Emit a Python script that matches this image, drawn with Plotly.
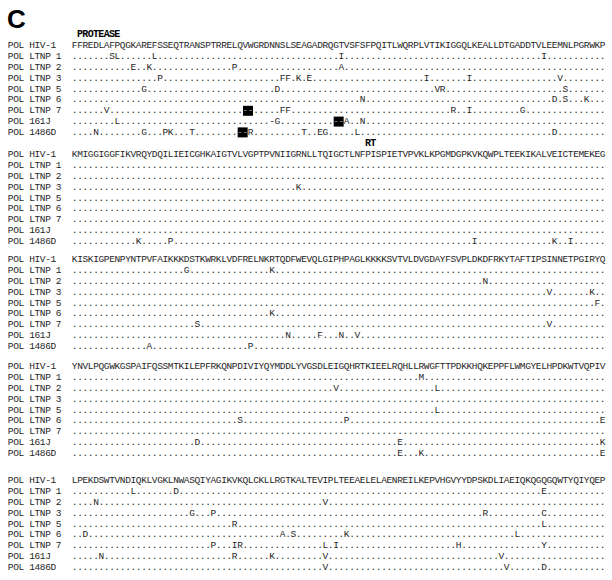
import plotly.graph_objects as go

# row labels, same for every block
labels = ["POL HIV-1", "POL LTNP 1", "POL LTNP 2", "POL LTNP 3", "POL LTNP 5",
          "POL LTNP 6", "POL LTNP 7", "POL 161J", "POL 1486D"]

# HIV-1 reference, 100 residues per block
ref_seqs = [
    "FFREDLAFPQGKAREFSSEQTRANSPTRRELQVWGRDNNSLSEAGADRQGTVSFSFPQITLWQRPLVTIKIGGQLKEALLDTGADDTVLEEMNLPGRWKP",
    "KMIGGIGGFIKVRQYDQILIEICGHKAIGTVLVGPTPVNIIGRNLLTQIGCTLNFPISPIETVPVKLKPGMDGPKVKQWPLTEEKIKALVEICTEMEKEG",
    "KISKIGPENPYNTPVFAIKKKDSTKWRKLVDFRELNKRTQDFWEVQLGIPHPAGLKKKKSVTVLDVGDAYFSVPLDKDFRKYTAFTIPSINNETPGIRYQ",
    "YNVLPQGWKGSPAIFQSSMTKILEPFRKQNPDIVIYQYMDDLYVGSDLEIGQHRTKIEELRQHLLRWGFTTPDKKHQKEPPFLWMGYELHPDKWTVQPIV",
    "LPEKDSWTVNDIQKLVGKLNWASQIYAGIKVKQLCKLLRGTKALTEVIPLTEEAELELAENREILKEPVHGVYYDPSKDLIAEIQKQGQGQWTYQIYQEP",
]

# differences from HIV-1 (column, residue); everything else is shown as '.'
block1_changes = {
    "POL LTNP 1": [(8, "S"), (9, "L"), (16, "L"), (51, "I"), (89, "I")],
    "POL LTNP 2": [(12, "E"), (15, "K"), (31, "P"), (51, "A")],
    "POL LTNP 3": [(17, "P"), (40, "F"), (41, "F"), (43, "K"), (45, "E"), (67, "I"), (75, "I"), (92, "V")],
    "POL LTNP 5": [(14, "G"), (39, "D"), (69, "V"), (70, "R"), (93, "S")],
    "POL LTNP 6": [(55, "N"), (91, "D"), (93, "S"), (97, "K")],
    "POL LTNP 7": [(7, "V"), (33, "-"), (34, "-"), (40, "F"), (41, "F"), (72, "R"), (75, "I"), (85, "G")],
    "POL 161J": [(9, "L"), (38, "-"), (39, "G"), (50, "-"), (51, "-"), (52, "A"), (55, "N")],
    "POL 1486D": [(5, "N"), (14, "G"), (18, "P"), (19, "K"), (23, "T"), (32, "-"), (33, "-"), (34, "R"),
                  (44, "T"), (47, "E"), (48, "G"), (54, "L"), (91, "D")],
}
block2_changes = {
    "POL LTNP 3": [(43, "K")],
    "POL 1486D": [(13, "K"), (19, "P"), (76, "I"), (91, "K"), (94, "I")],
}
block3_changes = {
    "POL LTNP 1": [(22, "G"), (38, "K")],
    "POL LTNP 2": [(78, "N")],
    "POL LTNP 3": [(90, "V"), (98, "K")],
    "POL LTNP 5": [(99, "F")],
    "POL LTNP 6": [(38, "K")],
    "POL LTNP 7": [(24, "S"), (90, "V")],
    "POL 161J": [(41, "N"), (47, "F"), (51, "N"), (54, "V")],
    "POL 1486D": [(15, "A"), (34, "P")],
}
block4_changes = {
    "POL LTNP 1": [(66, "M")],
    "POL LTNP 2": [(50, "V"), (69, "L")],
    "POL LTNP 5": [(69, "L")],
    "POL LTNP 6": [(32, "S"), (52, "P"), (100, "E")],
    "POL 161J": [(24, "D"), (62, "E"), (100, "K")],
    "POL 1486D": [(62, "E"), (66, "K"), (100, "E")],
}
block5_changes = {
    "POL LTNP 1": [(12, "L"), (20, "D"), (89, "E")],
    "POL LTNP 2": [(5, "N"), (48, "V")],
    "POL LTNP 3": [(23, "G"), (27, "P"), (78, "R"), (89, "C")],
    "POL LTNP 5": [(31, "R"), (89, "L")],
    "POL LTNP 6": [(3, "D"), (40, "A"), (42, "S"), (52, "K"), (84, "L")],
    "POL LTNP 7": [(27, "P"), (31, "I"), (32, "R"), (48, "L"), (50, "I"), (73, "H"), (89, "Y")],
    "POL 161J": [(6, "N"), (31, "R"), (38, "K"), (48, "V"), (81, "V")],
    "POL 1486D": [(48, "V"), (82, "V"), (89, "D")],
}
changes = [block1_changes, block2_changes, block3_changes, block4_changes, block5_changes]

# two-residue deletions highlighted in black (first block only): label, first column
boxed_gaps = [("POL LTNP 7", 33), ("POL 161J", 50), ("POL 1486D", 32)]

# region labels: text, block, first column
regions = [("PROTEASE", 0, 2), ("RT", 1, 56)]

# layout
block_y = [46, 155, 260, 367, 481]
row_step = 10.8
label_col = -11
ink = "#262626"
mono = "Liberation Mono"
fsize = 9.5

fig = go.Figure()

seq_x, seq_y, seq_t = [], [], []
lab_x, lab_y, lab_t = [], [], []
gap_x, gap_y = [], []

for b, ref in enumerate(ref_seqs):
    for r, lab in enumerate(labels):
        y = block_y[b] + r * row_step
        if r == 0:
            row = list(ref)
        else:
            row = ["."] * len(ref)
            for pos, aa in changes[b].get(lab, []):
                row[pos - 1] = aa
        for i, ch in enumerate(row):
            seq_x.append(i + 1)
            seq_y.append(y)
            seq_t.append(ch)
        for j, ch in enumerate(lab):
            if ch != " ":
                lab_x.append(label_col + j)
                lab_y.append(y)
                lab_t.append(ch)

for lab, col in boxed_gaps:
    r = labels.index(lab)
    gap_x.append(col + 0.5)
    gap_y.append(block_y[0] + r * row_step)

fig.add_trace(go.Scatter(
    x=gap_x, y=gap_y, mode="markers",
    marker=dict(symbol="square", size=10, color="black"),
    hoverinfo="skip", showlegend=False))

fig.add_trace(go.Scatter(
    x=seq_x, y=seq_y, text=seq_t, mode="text", textposition="middle center",
    textfont=dict(family=mono, size=fsize, color=ink),
    hoverinfo="skip", showlegend=False))

# dashes inside the black boxes
dash_x, dash_y = [], []
for gx, gy in zip(gap_x, gap_y):
    dash_x += [gx - 0.5, gx + 0.5]
    dash_y += [gy, gy]
fig.add_trace(go.Scatter(
    x=dash_x, y=dash_y, text=["-"] * len(dash_x), mode="text", textposition="middle center",
    textfont=dict(family=mono, size=fsize, color="#8a8a8a"),
    hoverinfo="skip", showlegend=False))

fig.add_trace(go.Scatter(
    x=lab_x, y=lab_y, text=lab_t, mode="text", textposition="middle center",
    textfont=dict(family=mono, size=fsize, color=ink),
    hoverinfo="skip", showlegend=False))

reg_x, reg_y, reg_t = [], [], []
for name, b, col in regions:
    y = block_y[b] - 12
    for j, ch in enumerate(name):
        reg_x.append(col + j)
        reg_y.append(y)
        reg_t.append("<b>" + ch + "</b>")
fig.add_trace(go.Scatter(
    x=reg_x, y=reg_y, text=reg_t, mode="text", textposition="middle center",
    textfont=dict(family=mono, size=10, color="black"),
    hoverinfo="skip", showlegend=False))

fig.add_annotation(
    x=-11.6, y=19, xref="x", yref="y", text="<b>C</b>", showarrow=False,
    xanchor="left", yanchor="middle", borderpad=0, borderwidth=0,
    font=dict(family="Liberation Sans", size=26, color="black"))

fig.update_layout(
    width=612, height=580,
    margin=dict(l=0, r=0, t=0, b=0),
    paper_bgcolor="white", plot_bgcolor="white",
    xaxis=dict(range=[-13, 101.75], visible=False, fixedrange=True),
    yaxis=dict(range=[580, 0], visible=False, fixedrange=True),
)

fig.write_html("out.html", config={"displayModeBar": False},
               post_script="document.body.style.margin='0';")
